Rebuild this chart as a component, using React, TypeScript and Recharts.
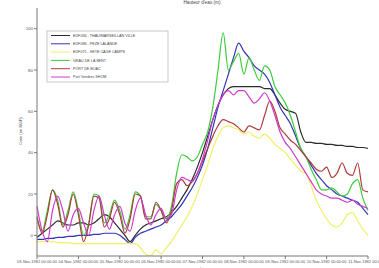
import React from 'react';
import { LineChart, Line, XAxis, YAxis } from 'recharts';

const hours = [0,3,6,9,12,15,18,21,24,27,30,33,36,39,42,45,48,51,54,57,60,63,66,69,72,75,78,81,84,87,90,93,96,99,102,105,108,111,114,117,120,123,126,129,132,135,138,141,144,147,150,153,156,159,162,165,168,171,174,177,180,183,186,189,192];

const thau = [-1,1,3,5,7,6,5,5,6,6,5,6,8,10,9,6,3,0,-3,0,3,5,6,7,8,9,11,14,18,22,27,33,40,48,56,63,68,71,72,72,72,72,72,72,71,71,68,64,61,60,59,50,45,45,44.5,44.5,44,44,43.5,43.5,43,43,42.5,42.5,42];
const peze = [-2,-2,-1.5,-1.5,-1,-1,-0.5,-0.5,0,0,0,0.5,0.5,1,1,1,0,-2,-4,-1,1,2,3,4,5,7,9,12,15,19,23,28,34,42,52,62,70,78,86,93,89,86,82,80,78,74,68,62,58,54,48,42,38,34,30,27,24,22,20,19,18,17,16,13,10];
const sete = [-3,-3,-3,-3,-3.5,-3.5,-3.5,-4,-4,-4,-4,-4,-4,-4,-4,-4,-4,-4,-4,-4,-6,-9,-10,-7,-9,-6,-3,1,5,9,14,20,27,34,42,48,52,53,52,51,49,50,48,47,49,47,44,42,40,37,34,31,30,24,17,12,8,5,4,6,10,11,7,3,0];
const grau = [8,2,12,22,17,5,12,21,12,0,6,20,19,6,10,17,12,3,10,21,19,9,9,15,12,8,14,30,39,38,36,38,44,50,62,80,98,80,84,88,78,86,80,75,82,80,72,68,64,58,50,42,38,32,27,22,22,23,21,19,20,25,27,18,12];
const boac = [9,1,10,22,15,4,10,20,10,-3,5,19,18,4,8,16,10,1,8,20,19,8,8,16,12,6,12,25,27,24,26,30,36,42,48,53,56,55,54,52,50,53,52,51,58,65,60,52,49,46,44,41,38,35,32,31,33,28,30,35,30,29,35,22,21];
const vendres = [14,2,-3,12,19,12,2,10,13,6,0,12,19,10,3,10,14,6,2,12,18,10,5,10,13,8,10,22,28,27,26,30,37,46,56,63,68,70,68,70,70,67,64,66,69,65,58,50,45,42,38,34,30,26,22,20,19,18,18,17,16,17,15,14,13];

const seriesNames = [
  'EDF094 - THAU/MARSEILLAN VILLE',
  'EDF096 - PEZE LALANDE',
  'EDF071 - SETE CAGE CAMPS',
  'GRAU DE LA SENT',
  'PORT DE BOAC',
  'Port Vendres SHOM',
];
const seriesKeys = ['thau', 'peze', 'sete', 'grau', 'boac', 'vendres'];
const seriesColors = ['#2b2b2b', '#3434b8', '#f0f06a', '#3ccc3c', '#b03a3a', '#cc3ccc'];
const seriesValues = [thau, peze, sete, grau, boac, vendres];

const xTickHours = [0, 24, 48, 72, 96, 120, 144, 168, 192];
const xTickLabels = [
  '03-Nov-1982 00:00:00',
  '04-Nov-1982 00:00:00',
  '05-Nov-1982 00:00:00',
  '06-Nov-1982 00:00:00',
  '07-Nov-1982 00:00:00',
  '08-Nov-1982 00:00:00',
  '09-Nov-1982 00:00:00',
  '10-Nov-1982 00:00:00',
  '11-Nov-1982 00:00:00',
];
const yTicks = [0, 20, 40, 60, 80, 100];

const data = hours.map((h, i) => {
  const row: Record<string, number> = { h };
  seriesKeys.forEach((k, j) => {
    row[k] = seriesValues[j][i];
  });
  return row;
});

const FONT = 'Liberation Sans, Arial, sans-serif';

const LegendBox = () => (
  <g>
    <rect x={47} y={31} width={121} height={51} fill="#fff" stroke="#bbb" strokeWidth={0.8} />
    {seriesNames.map((n, i) => {
      const y = 35.5 + i * 8.3;
      return (
        <g key={n}>
          <line x1={51} x2={70} y1={y} y2={y} stroke={seriesColors[i]} strokeWidth={1} />
          <text x={73} y={y + 1.3} fontSize={3.7} fill="#444" fontFamily={FONT}>
            {n}
          </text>
        </g>
      );
    })}
  </g>
);

export default function App() {
  return (
    <div style={{ position: 'absolute', left: 0, top: 0, width: 379, height: 268, background: '#fff' }}>
      <LineChart
        width={379}
        height={268}
        data={data}
        margin={{ top: 8, right: 11, bottom: 0, left: 0 }}
      >
        <text x={202} y={4} textAnchor="middle" fontSize={4.6} fill="#444" fontFamily={FONT}>
          Hauteur d'eau (m)
        </text>
        <text
          x={22}
          y={131}
          textAnchor="middle"
          fontSize={4.2}
          fill="#444"
          fontFamily={FONT}
          transform="rotate(-90 22 131)"
        >
          Cote (en NGF)
        </text>
        <XAxis
          dataKey="h"
          type="number"
          domain={[0, 192]}
          ticks={xTickHours}
          interval={0}
          height={12}
          tickSize={3}
          tickMargin={1}
          stroke="#777"
          tickFormatter={(v: number) => xTickLabels[xTickHours.indexOf(v)] ?? ''}
          tick={{ fontSize: 4, fill: '#555', fontFamily: FONT }}
          label={{ value: 'date', position: 'insideBottom', offset: -2, fontSize: 3.8, fill: '#555' }}
        />
        <XAxis
          xAxisId="top"
          dataKey="h"
          type="number"
          orientation="top"
          domain={[0, 192]}
          ticks={xTickHours}
          interval={0}
          height={0}
          mirror
          tick={false}
          tickSize={3}
          stroke="#777"
        />
        <YAxis
          type="number"
          domain={[-10, 110]}
          ticks={yTicks}
          interval={0}
          width={37}
          tickSize={3}
          tickMargin={1}
          stroke="#777"
          allowDataOverflow
          tick={{ fontSize: 4.4, fill: '#555', fontFamily: FONT }}
        />
        <YAxis
          yAxisId="right"
          orientation="right"
          type="number"
          domain={[-10, 110]}
          ticks={yTicks}
          width={0}
          mirror
          tick={false}
          tickSize={3}
          stroke="#777"
        />
        {seriesKeys.map((k, i) => (
          <Line
            key={k}
            dataKey={k}
            name={seriesNames[i]}
            type="monotone"
            stroke={seriesColors[i]}
            strokeWidth={1.2}
            dot={false}
            isAnimationActive={false}
          />
        ))}
        <LegendBox />
      </LineChart>
    </div>
  );
}
